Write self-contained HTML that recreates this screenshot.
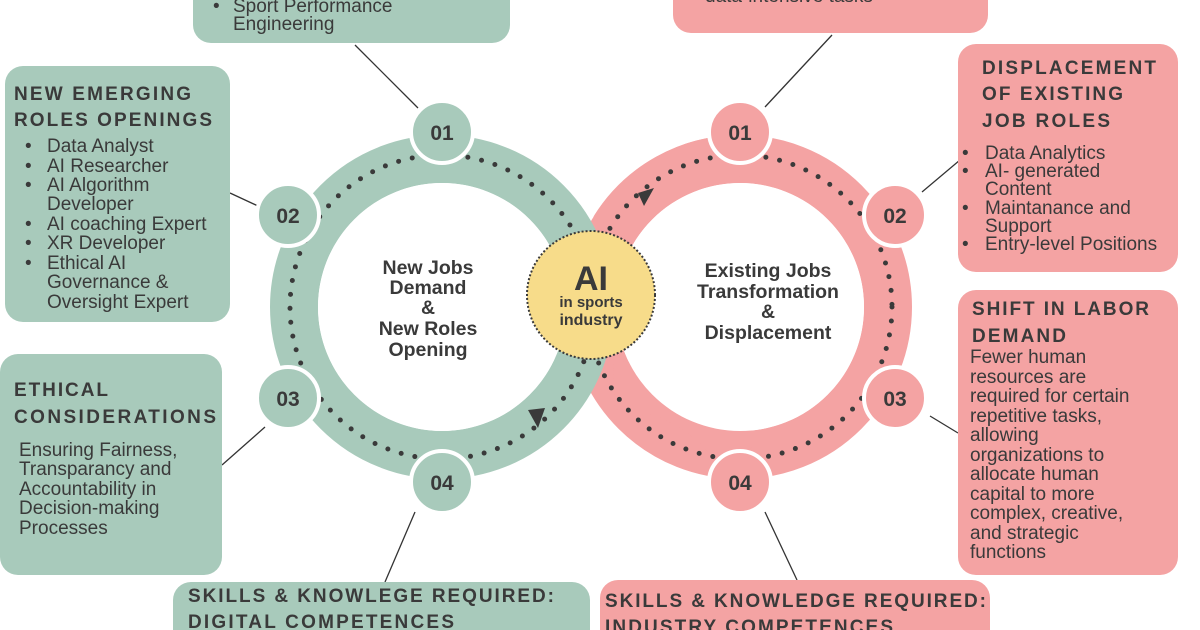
<!DOCTYPE html>
<html><head><meta charset="utf-8"><style>
html,body{margin:0;padding:0;background:#fff;width:1200px;height:630px;overflow:hidden}
svg text{font-family:"Liberation Sans",sans-serif;fill:#3a3a3a}
.h{font-weight:bold;font-size:19px;letter-spacing:2px}
.b{font-size:19px}
.n{font-weight:bold;font-size:21px;text-anchor:middle}
.c{font-weight:bold;font-size:19.5px;text-anchor:middle}
</style></head><body>
<svg width="1200" height="630" viewBox="0 0 1200 630" xmlns="http://www.w3.org/2000/svg">
<g stroke="#333" stroke-width="1.3">
<line x1="355" y1="45" x2="418" y2="108"/>
<line x1="832" y1="35" x2="765" y2="107"/>
<line x1="230" y1="193" x2="258" y2="206"/>
<line x1="960" y1="160" x2="922" y2="192"/>
<line x1="222" y1="465" x2="265" y2="427"/>
<line x1="930" y1="416" x2="958" y2="433"/>
<line x1="385" y1="582" x2="415" y2="512"/>
<line x1="765" y1="512" x2="797" y2="580"/>
</g>
<rect x="193" y="-30" width="317" height="73" rx="18" fill="#a8cabb"/>
<rect x="673" y="-30" width="315" height="63" rx="18" fill="#f4a3a3"/>
<rect x="5" y="66" width="225" height="256" rx="18" fill="#a8cabb"/>
<rect x="958" y="44" width="220" height="228" rx="18" fill="#f4a3a3"/>
<rect x="0" y="354" width="222" height="221" rx="18" fill="#a8cabb"/>
<rect x="958" y="290" width="220" height="285" rx="18" fill="#f4a3a3"/>
<rect x="173" y="582" width="417" height="70" rx="18" fill="#a8cabb"/>
<rect x="600" y="580" width="390" height="70" rx="18" fill="#f4a3a3"/>
<circle cx="740" cy="307" r="148" fill="none" stroke="#f4a3a3" stroke-width="48"/>
<circle cx="442" cy="307" r="148" fill="none" stroke="#a8cabb" stroke-width="48"/>
<circle cx="442" cy="307" r="124" fill="#fff"/>
<path d="M 740 159 A 148 148 0 0 0 614 229" fill="none" stroke="#f4a3a3" stroke-width="48"/>
<path d="M 614 385 A 148 148 0 0 1 740 455" fill="none" stroke="#f4a3a3" stroke-width="48"/>
<circle cx="740" cy="307" r="124" fill="#fff"/>
<g fill="none" stroke="#3a3a3a" stroke-width="5" stroke-linecap="round" stroke-dasharray="0 14">
<circle cx="442" cy="307" r="152"/>
<circle cx="740" cy="307" r="152"/>
</g>
<polygon points="528,410 545,408 538,428" fill="#3a3a3a"/>
<polygon points="654,188 638,193 644,206" fill="#3a3a3a"/>
<circle cx="591" cy="295" r="64" fill="#f7dc8a" stroke="#3a3a3a" stroke-width="2" stroke-dasharray="2 2"/>
<text x="591" y="290" style="font-weight:bold;font-size:34px;text-anchor:middle">AI</text>
<text x="591" y="307" style="font-weight:bold;font-size:15px;text-anchor:middle">in sports</text>
<text x="591" y="325" style="font-weight:bold;font-size:16px;text-anchor:middle">industry</text>
<g stroke="#fff" stroke-width="4">
<circle cx="442" cy="132" r="31" fill="#a8cabb"/>
<circle cx="288" cy="215" r="31" fill="#a8cabb"/>
<circle cx="288" cy="398" r="31" fill="#a8cabb"/>
<circle cx="442" cy="482" r="31" fill="#a8cabb"/>
<circle cx="740" cy="132" r="31" fill="#f4a3a3"/>
<circle cx="895" cy="215" r="31" fill="#f4a3a3"/>
<circle cx="895" cy="398" r="31" fill="#f4a3a3"/>
<circle cx="740" cy="482" r="31" fill="#f4a3a3"/>
</g>
<text class="n" x="442" y="140">01</text>
<text class="n" x="288" y="223">02</text>
<text class="n" x="288" y="406">03</text>
<text class="n" x="442" y="490">04</text>
<text class="n" x="740" y="140">01</text>
<text class="n" x="895" y="223">02</text>
<text class="n" x="895" y="406">03</text>
<text class="n" x="740" y="490">04</text>
<text class="c" x="428" y="274">New Jobs</text>
<text class="c" x="428" y="294">Demand</text>
<text class="c" x="428" y="314">&amp;</text>
<text class="c" x="428" y="335">New Roles</text>
<text class="c" x="428" y="356">Opening</text>
<text class="c" x="768" y="277">Existing Jobs</text>
<text class="c" x="768" y="298">Transformation</text>
<text class="c" x="768" y="318">&amp;</text>
<text class="c" x="768" y="339">Displacement</text>
<text class="b" x="213" y="12">•</text><text class="b" x="233" y="12">Sport Performance</text>
<text class="b" x="233" y="30">Engineering</text>
<text class="b" x="705" y="2">data-intensive tasks</text>
<text class="h" x="14" y="100" textLength="179" lengthAdjust="spacing">NEW EMERGING</text>
<text class="h" x="14" y="126" textLength="200" lengthAdjust="spacing">ROLES OPENINGS</text>
<text class="b" x="25" y="152">•</text><text class="b" x="47" y="152">Data Analyst</text>
<text class="b" x="25" y="172">•</text><text class="b" x="47" y="172">AI Researcher</text>
<text class="b" x="25" y="191">•</text><text class="b" x="47" y="191">AI Algorithm</text>
<text class="b" x="47" y="210">Developer</text>
<text class="b" x="25" y="230">•</text><text class="b" x="47" y="230">AI coaching Expert</text>
<text class="b" x="25" y="249">•</text><text class="b" x="47" y="249">XR Developer</text>
<text class="b" x="25" y="269">•</text><text class="b" x="47" y="269">Ethical AI</text>
<text class="b" x="47" y="288">Governance &amp;</text>
<text class="b" x="47" y="308">Oversight Expert</text>
<text class="h" x="982" y="74" textLength="176" lengthAdjust="spacing">DISPLACEMENT</text>
<text class="h" x="982" y="100" textLength="143" lengthAdjust="spacing">OF EXISTING</text>
<text class="h" x="982" y="127" textLength="130" lengthAdjust="spacing">JOB ROLES</text>
<text class="b" x="962" y="159">•</text><text class="b" x="985" y="159">Data Analytics</text>
<text class="b" x="962" y="177">•</text><text class="b" x="985" y="177">AI- generated</text>
<text class="b" x="985" y="195">Content</text>
<text class="b" x="962" y="214">•</text><text class="b" x="985" y="214">Maintanance and</text>
<text class="b" x="985" y="232">Support</text>
<text class="b" x="962" y="250">•</text><text class="b" x="985" y="250">Entry-level Positions</text>
<text class="h" x="14" y="396" textLength="96" lengthAdjust="spacing">ETHICAL</text>
<text class="h" x="14" y="423" textLength="204" lengthAdjust="spacing">CONSIDERATIONS</text>
<text class="b" x="19" y="456">Ensuring Fairness,</text>
<text class="b" x="19" y="475">Transparancy and</text>
<text class="b" x="19" y="495">Accountability in</text>
<text class="b" x="19" y="514">Decision-making</text>
<text class="b" x="19" y="534">Processes</text>
<text class="h" x="972" y="315" textLength="179" lengthAdjust="spacing">SHIFT IN LABOR</text>
<text class="h" x="972" y="342" textLength="96" lengthAdjust="spacing">DEMAND</text>
<text class="b" x="970" y="363">Fewer human</text>
<text class="b" x="970" y="383">resources are</text>
<text class="b" x="970" y="402">required for certain</text>
<text class="b" x="970" y="422">repetitive tasks,</text>
<text class="b" x="970" y="441">allowing</text>
<text class="b" x="970" y="461">organizations to</text>
<text class="b" x="970" y="480">allocate human</text>
<text class="b" x="970" y="500">capital to more</text>
<text class="b" x="970" y="519">complex, creative,</text>
<text class="b" x="970" y="539">and strategic</text>
<text class="b" x="970" y="558">functions</text>
<text class="h" x="188" y="602" textLength="368" lengthAdjust="spacing">SKILLS &amp; KNOWLEGE REQUIRED:</text>
<text class="h" x="188" y="628" textLength="268" lengthAdjust="spacing">DIGITAL COMPETENCES</text>
<text class="h" x="605" y="607" textLength="383" lengthAdjust="spacing">SKILLS &amp; KNOWLEDGE REQUIRED:</text>
<text class="h" x="605" y="633" textLength="290" lengthAdjust="spacing">INDUSTRY COMPETENCES</text>
</svg>
</body></html>
